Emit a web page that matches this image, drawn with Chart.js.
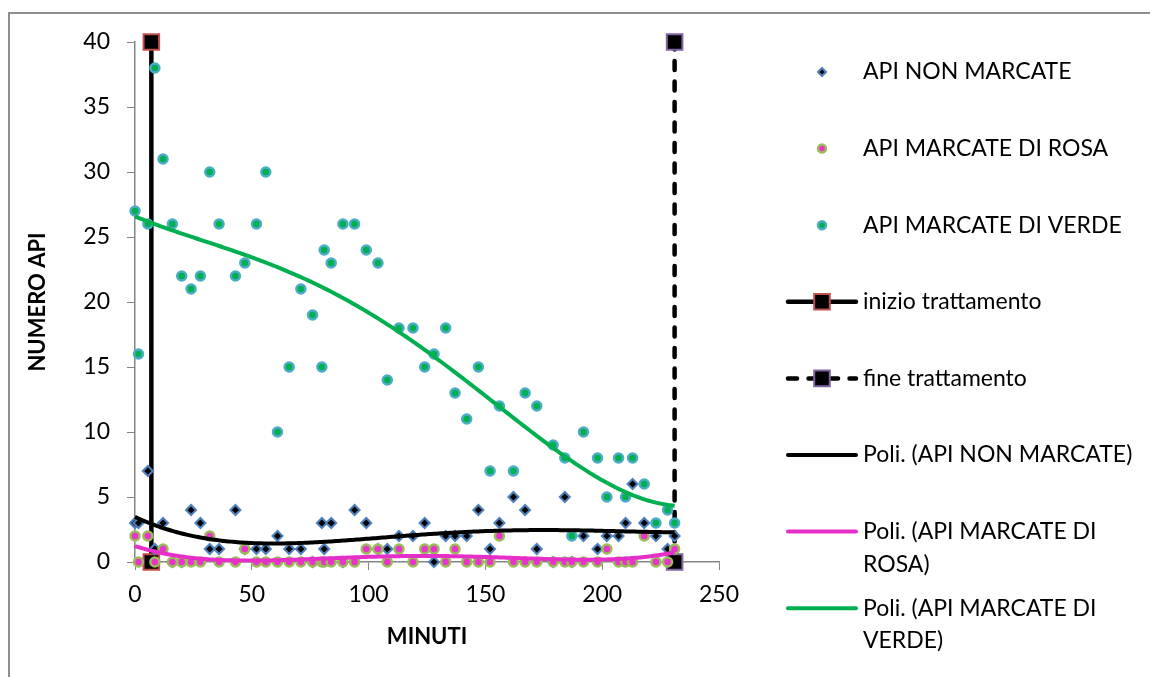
<!DOCTYPE html>
<html>
<head>
<meta charset="utf-8">
<script src="https://cdn.jsdelivr.net/npm/chart.js@4.4.1/dist/chart.umd.min.js"></script>
<style>
  html, body { margin: 0; padding: 0; background: #fff; }
  #box { position: relative; width: 1150px; height: 677px; overflow: hidden; }
  #frame { position: absolute; left: 8px; top: 12px; width: 1200px; height: 700px;
           border-left: 2px solid #8f8f8f; border-top: 2px solid #8f8f8f; }
  canvas { position: absolute; left: 0; top: 0; }
</style>
</head>
<body>
<div id="box">
  <div id="frame"></div>
  <canvas id="myChart" width="1150" height="677"></canvas>
</div>
<script>
// minuti di osservazione
const minuti = [0, 1.5, 5.5, 8.5, 12, 16, 20, 24, 28, 32, 36, 43, 47, 52, 56, 61, 66, 71, 76, 80,
    81, 84, 89, 94, 99, 104, 108, 113, 119, 124, 128, 133, 137, 142, 147, 152, 156, 162, 167, 172,
    179, 184, 187, 192, 198, 202, 207, 210, 213, 218, 223, 228, 231]

const apiNonMarcate = [3, 3, 7, 1, 3, 0, 0, 4, 3, 1, 1, 4, 1, 1, 1, 2, 1, 1, 0, 3,
    1, 3, 0, 4, 3, 1, 1, 2, 2, 3, 0, 2, 2, 2, 4, 1, 3, 5, 4, 1,
    0, 5, 0, 2, 1, 2, 2, 3, 6, 3, 2, 1, 2]

const apiRosa = [2, 0, 2, 0, 1, 0, 0, 0, 0, 2, 0, 0, 1, 0, 0, 0, 0, 0, 0, 0,
    0, 0, 0, 0, 1, 1, 0, 1, 0, 1, 1, 0, 1, 0, 0, 0, 2, 0, 0, 0,
    0, 0, 0, 0, 0, 1, 0, 0, 0, 2, 0, 0, 1]

const apiVerde = [27, 16, 26, 38, 31, 26, 22, 21, 22, 30, 26, 22, 23, 26, 30, 10, 15, 21, 19, 15,
    24, 23, 26, 26, 24, 23, 14, 18, 18, 15, 16, 18, 13, 11, 15, 7, 12, 7, 13, 12,
    9, 8, 2, 10, 8, 5, 8, 5, 8, 6, 3, 4, 3]

// inizio e fine del trattamento
const inizioTrattamento = 7
const fineTrattamento = 231
const estremiY = [0, 40]

const xTicks = [0, 50, 100, 150, 200, 250]

// ordine della tendenza polinomiale
const GRADO = 4

function punti(xs, ys) {
    return xs.map((x, i) => ({ x: x, y: ys[i] }))
}

// tendenza polinomiale (minimi quadrati), come "Poli." di Excel
function fitPoly(xs, ys, grado) {
    const n = grado + 1
    const A = Array.from({ length: n }, () => new Array(n + 1).fill(0))
    xs.forEach((x, k) => {
        const u = x / 100
        for (let i = 0; i < n; i++) {
            for (let j = 0; j < n; j++) A[i][j] += Math.pow(u, i + j)
            A[i][n] += ys[k] * Math.pow(u, i)
        }
    })
    for (let c = 0; c < n; c++) {
        let p = c
        for (let r = c + 1; r < n; r++) if (Math.abs(A[r][c]) > Math.abs(A[p][c])) p = r
        const tmp = A[c]; A[c] = A[p]; A[p] = tmp
        for (let r = 0; r < n; r++) {
            if (r === c) continue
            const f = A[r][c] / A[c][c]
            for (let k = c; k <= n; k++) A[r][k] -= f * A[c][k]
        }
    }
    const coef = A.map((row, i) => row[n] / row[i])
    return x => coef.reduce((s, a, i) => s + a * Math.pow(x / 100, i), 0)
}

function tendenza(xs, ys) {
    const f = fitPoly(xs, ys, GRADO)
    const x0 = Math.min(...xs), x1 = Math.max(...xs)
    const out = []
    for (let x = x0; x < x1; x += 1) out.push({ x: x, y: f(x) })
    out.push({ x: x1, y: f(x1) })
    return out
}

const FONT = 'Lato, "Open Sans", sans-serif'

function marker(ctx, stile, x, y, r, fill, stroke, bw) {
    ctx.beginPath()
    if (stile === 'rectRot') {
        ctx.moveTo(x, y - r); ctx.lineTo(x + r, y); ctx.lineTo(x, y + r); ctx.lineTo(x - r, y)
        ctx.closePath()
    } else if (stile === 'rect') {
        const s = r * Math.SQRT1_2
        ctx.rect(x - s, y - s, 2 * s, 2 * s)
    } else {
        ctx.arc(x, y, r, 0, Math.PI * 2)
    }
    ctx.fillStyle = fill
    ctx.fill()
    ctx.lineWidth = bw
    ctx.strokeStyle = stroke
    ctx.stroke()
}

// legenda a destra, disegnata a mano
const legenda = {
    id: 'legenda',
    afterDraw(chart) {
        const ctx = chart.ctx
        ctx.save()
        ctx.textBaseline = 'middle'
        chart.data.datasets.forEach((ds, i) => {
            const y = 72 + i * 76.6
            const xm = 822
            if (ds.showLine) {
                ctx.beginPath()
                ctx.setLineDash(ds.borderDash || [])
                ctx.lineCap = 'round'
                ctx.lineWidth = ds.borderWidth
                ctx.strokeStyle = ds.borderColor
                ctx.moveTo(788, y); ctx.lineTo(856, y)
                ctx.stroke()
                ctx.setLineDash([])
            }
            if (ds.pointRadius > 0) {
                const r = ds.showLine ? ds.pointRadius : 4
                marker(ctx, ds.pointStyle, xm, y, r, ds.pointBackgroundColor, ds.pointBorderColor, ds.pointBorderWidth)
            }
            ctx.fillStyle = '#000'
            ctx.font = '23px ' + FONT
            ds.label.split('\n').forEach((riga, k) => {
                ctx.fillText(riga, 863, y + k * 32.5)
            })
        })
        ctx.restore()
    }
}

const ctx = document.getElementById('myChart').getContext('2d')
const myChart = new Chart(ctx, {
    type: 'scatter',
    data: {
        datasets: [
            {
                label: 'API NON MARCATE',
                data: punti(minuti, apiNonMarcate),
                pointStyle: 'rectRot', pointRadius: 5, pointBorderWidth: 2,
                pointBackgroundColor: '#000', pointBorderColor: '#4F81BD',
                order: 8
            },
            {
                label: 'API MARCATE DI ROSA',
                data: punti(minuti, apiRosa),
                pointStyle: 'circle', pointRadius: 4.5, pointBorderWidth: 2.5,
                pointBackgroundColor: '#E833CC', pointBorderColor: '#9BBB59',
                order: 7
            },
            {
                label: 'API MARCATE DI VERDE',
                data: punti(minuti, apiVerde),
                pointStyle: 'circle', pointRadius: 4.5, pointBorderWidth: 2.5,
                pointBackgroundColor: '#00B050', pointBorderColor: '#4BACC6',
                order: 6
            },
            {
                label: 'inizio trattamento',
                data: estremiY.map(y => ({ x: inizioTrattamento, y: y })),
                showLine: true, borderColor: '#000', borderWidth: 4.5,
                pointStyle: 'rect', pointRadius: 11, pointBorderWidth: 2,
                pointBackgroundColor: '#000', pointBorderColor: '#C0504D',
                order: 10
            },
            {
                label: 'fine trattamento',
                data: estremiY.map(y => ({ x: fineTrattamento, y: y })),
                showLine: true, borderColor: '#000', borderWidth: 4.5,
                borderDash: [9, 11.5], borderCapStyle: 'round',
                pointStyle: 'rect', pointRadius: 11, pointBorderWidth: 2,
                pointBackgroundColor: '#000', pointBorderColor: '#8064A2',
                order: 9
            },
            {
                label: 'Poli. (API NON MARCATE)',
                data: tendenza(minuti, apiNonMarcate),
                showLine: true, borderColor: '#000', borderWidth: 4, pointRadius: 0,
                order: 3
            },
            {
                label: 'Poli. (API MARCATE DI\nROSA)',
                data: tendenza(minuti, apiRosa),
                showLine: true, borderColor: '#E62EC8', borderWidth: 4, pointRadius: 0,
                order: 2
            },
            {
                label: 'Poli. (API MARCATE DI\nVERDE)',
                data: tendenza(minuti, apiVerde),
                showLine: true, borderColor: '#00B050', borderWidth: 4, pointRadius: 0,
                order: 1
            }
        ].map(d => Object.assign({ clip: false, tension: 0 }, d))
    },
    options: {
        responsive: false,
        devicePixelRatio: 1,
        animation: false,
        layout: { padding: { left: 21, top: 42, right: 431, bottom: 23 } },
        plugins: { legend: { display: false }, tooltip: { enabled: false } },
        scales: {
            x: {
                type: 'linear', min: 0, max: 250,
                afterFit: s => { s.height = 92 },
                afterBuildTicks: s => { s.ticks = xTicks.map(v => ({ value: v })) },
                grid: { drawOnChartArea: false, drawTicks: true, tickLength: 8, color: '#868686' },
                border: { color: '#868686', width: 1.5 },
                ticks: { color: '#000', font: { family: FONT, size: 23 }, padding: 11 },
                title: { display: true, text: 'MINUTI', color: '#000',
                         font: { family: FONT, size: 22, weight: 'bold' }, padding: { top: 4, bottom: 4 } }
            },
            y: {
                min: 0, max: 40,
                afterFit: s => { s.width = 114 },
                grid: { drawOnChartArea: false, drawTicks: true, tickLength: 8, color: '#868686' },
                border: { color: '#868686', width: 1.5 },
                ticks: { stepSize: 5, color: '#000', font: { family: FONT, size: 23 }, padding: 17 },
                title: { display: true, text: 'NUMERO API', color: '#000',
                         font: { family: FONT, size: 22, weight: 'bold' }, padding: { top: 4, bottom: 4 } }
            }
        }
    },
    plugins: [legenda]
})
</script>
</body>
</html>
